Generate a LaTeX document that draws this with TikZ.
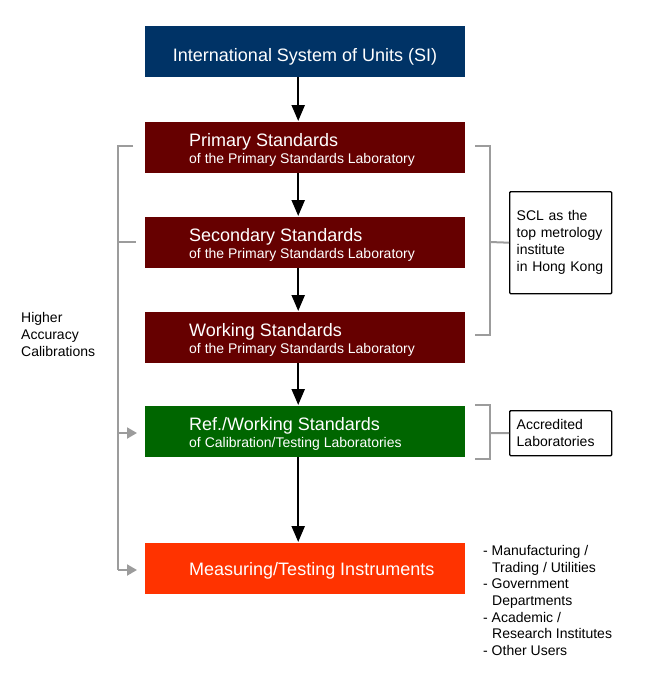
\documentclass[tikz,border=0pt]{standalone}
\usepackage{fontspec}
\setmainfont{Liberation Sans}
\usetikzlibrary{arrows.meta}
\definecolor{siblue}{HTML}{003366}
\definecolor{sclred}{HTML}{660000}
\definecolor{labgreen}{HTML}{006600}
\definecolor{instred}{HTML}{FF3300}
\definecolor{brgray}{HTML}{9C9C9C}
\newcommand{\titlef}{\fontsize{18}{21}\selectfont}
\newcommand{\subf}{\fontsize{14}{17}\selectfont}
\begin{document}
\begin{tikzpicture}[x=1pt,y=-1pt,
  stdbox/.style={rectangle, minimum width=320pt, minimum height=51pt, inner sep=0pt, anchor=north west},
  ttl/.style={anchor=base west, inner sep=0pt, text=white, font=\titlef},
  subttl/.style={anchor=base west, inner sep=0pt, text=white, font=\subf},
  flowarrow/.style={line width=2.2pt, -{Triangle[length=16pt,width=13pt]}, shorten >=1pt},
  bracket/.style={line width=2pt, brgray},
  grayarrow/.style={line width=2pt, brgray, -{Triangle[length=10pt,width=11pt]}},
  infobox/.style={draw=black, line width=1.4pt, rounded corners=1pt, minimum width=102pt, inner xsep=7pt, align=left, font=\subf, anchor=north west, text width=88pt},
  plain/.style={anchor=base west, inner sep=0pt, font=\subf}
]
\useasboundingbox (0,0) rectangle (645,680);

% main boxes
\node[stdbox, fill=siblue] (si) at (145,26) {};
\node[anchor=base, inner sep=0pt, text=white, font=\titlef] (sit) at (305,61) {International System of Units (SI)};

\node[stdbox, fill=sclred] (prim) at (145,122) {};
\node[ttl] (primt) at (189,146) {Primary Standards};
\node[subttl] (prims) at (189,163) {of the Primary Standards Laboratory};

\node[stdbox, fill=sclred] (sec) at (145,217) {};
\node[ttl] (sect) at (189,241) {Secondary Standards};
\node[subttl] (secs) at (189,258) {of the Primary Standards Laboratory};

\node[stdbox, fill=sclred] (work) at (145,312) {};
\node[ttl] (workt) at (189,336) {Working Standards};
\node[subttl] (works) at (189,353) {of the Primary Standards Laboratory};

\node[stdbox, fill=labgreen] (ref) at (145,406) {};
\node[ttl] (reft) at (189,430) {Ref./Working Standards};
\node[subttl] (refs) at (189,447) {of Calibration/Testing Laboratories};

\node[stdbox, fill=instred] (inst) at (145,543) {};
\node[ttl] (instt) at (189,575) {Measuring/Testing Instruments};

% flow arrows
\foreach \a/\b in {si/prim, prim/sec, sec/work, work/ref, ref/inst}
  \draw[flowarrow] ([xshift=-7pt]\a.south) -- ([xshift=-7pt]\b.north);

% left bracket
\coordinate (lt) at (133,146);
\coordinate (lm) at (136,242);
\coordinate (lx) at (118,146);
\coordinate (lr) at (137,433);
\coordinate (li) at (137,570);
\draw[bracket] (lt) -- (lx) -- (118,570);
\draw[bracket] (118,242) -- (lm);
\draw[grayarrow] (118,433) -- (lr);
\draw[grayarrow] (118,570) -- (li);

\node[anchor=north west, inner sep=0pt, align=left, font=\subf] (hac) at (21,312) {Higher\\Accuracy\\Calibrations};

% right boxes
\node[infobox, minimum height=102pt] (scl) at (509,191) {SCL as the\\top metrology\\institute\\in Hong Kong};
\node[infobox, minimum height=45pt] (acc) at (509,410) {Accredited\\Laboratories};

% right brackets
\draw[bracket] (475,146) -- (490,146) -- (490,335) -- (475,335);
\draw[bracket] (490,242) -- (scl.west);
\draw[bracket] (475,405) -- (490,405) -- (490,459) -- (475,459);
\draw[bracket] (490,433) -- (acc.west);

% users list
\node[plain] (u1) at (483,555) {- Manufacturing /};
\node[plain] (u2) at (492,572) {Trading / Utilities};
\node[plain] (u3) at (483,588) {- Government};
\node[plain] (u4) at (492,605) {Departments};
\node[plain] (u5) at (483,622) {- Academic /};
\node[plain] (u6) at (492,638) {Research Institutes};
\node[plain] (u7) at (483,655) {- Other Users};
\end{tikzpicture}
\end{document}
